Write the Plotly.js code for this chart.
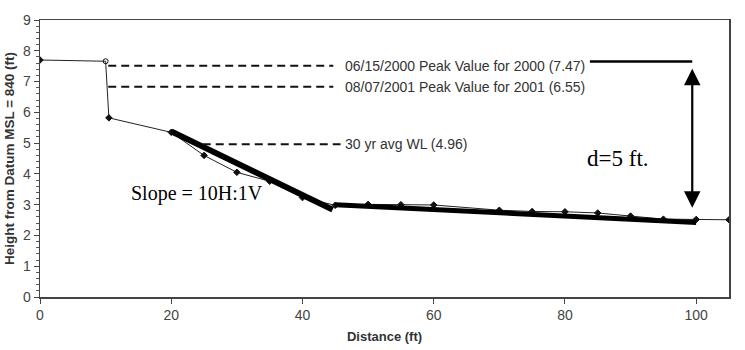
<!DOCTYPE html>
<html>
<head>
<meta charset="utf-8">
<script src="https://cdn.plot.ly/plotly-3.0.1.min.js"></script>
<style>html,body{margin:0;padding:0;background:#fff;}#chart{width:745px;height:350px;}</style>
</head>
<body>
<div id="chart"></div>
<script>
// Surveyed profile
var distance = [0, 10, 10.5, 20, 25, 30, 35, 40, 45, 50, 55, 60, 70, 75, 80, 85, 90, 95, 100, 105];
var height   = [7.70, 7.66, 5.82, 5.35, 4.60, 4.05, 3.76, 3.23, 2.98, 3.01, 3.00, 2.99, 2.82, 2.78, 2.77, 2.73, 2.63, 2.53, 2.52, 2.51];
var markerSymbols = ['diamond', 'circle-open', 'diamond', 'diamond', 'diamond', 'diamond', 'diamond', 'diamond', 'diamond', 'diamond',
                     'diamond', 'diamond', 'diamond', 'diamond', 'diamond', 'diamond', 'diamond', 'diamond', 'diamond', 'diamond'];

// Bold design-slope lines
var slopeX = [20, 44.6];
var slopeY = [5.38, 2.84];
var flatX  = [45, 100];
var flatY  = [3.00, 2.42];

// Reference water levels (dashed)
var peak2000X = [10.4, 44.7];
var peak2000Y = [7.51, 7.51];
var peak2001X = [10.4, 44.7];
var peak2001Y = [6.83, 6.83];
var avgWLX = [24.8, 45.8];
var avgWLY = [4.96, 4.96];

// Solid reference line top-right
var topLineX = [83.8, 99.4];
var topLineY = [7.65, 7.65];

var labels = [
  "06/15/2000 Peak Value for 2000 (7.47)",
  "08/07/2001 Peak Value for 2001 (6.55)",
  "30 yr avg WL (4.96)"
];

var traces = [
  {x: distance, y: height, mode: 'lines+markers', line: {color: '#222', width: 1},
   marker: {symbol: markerSymbols, size: 5, color: '#111', line: {color: '#111', width: 1}}, hoverinfo: 'skip'},
  {x: slopeX, y: slopeY, mode: 'lines', line: {color: '#000', width: 6}},
  {x: flatX, y: flatY, mode: 'lines', line: {color: '#000', width: 5}},
  {x: peak2000X, y: peak2000Y, mode: 'lines', line: {color: '#111', width: 2, dash: '8px,5px'}},
  {x: peak2001X, y: peak2001Y, mode: 'lines', line: {color: '#111', width: 2, dash: '8px,5px'}},
  {x: avgWLX, y: avgWLY, mode: 'lines', line: {color: '#111', width: 2, dash: '8px,5px'}},
  {x: topLineX, y: topLineY, mode: 'lines', line: {color: '#000', width: 2.5}}
];

var layout = {
  width: 745, height: 350,
  margin: {l: 40, r: 16, t: 20, b: 53},
  paper_bgcolor: '#fff', plot_bgcolor: '#fff',
  showlegend: false,
  font: {family: 'Liberation Sans, Arial, sans-serif', color: '#333', size: 13},
  xaxis: {
    range: [0, 105], dtick: 20, tick0: 0, showgrid: false, zeroline: false,
    showline: true, linecolor: '#444', linewidth: 1.5, mirror: true,
    ticks: 'outside', ticklen: 5, tickcolor: '#444',
    tickfont: {size: 14, color: '#444'},
    title: {text: '<b>Distance (ft)</b>', font: {size: 13, color: '#333'}, standoff: 9}
  },
  yaxis: {
    range: [0, 9], dtick: 1, tick0: 0, showgrid: false, zeroline: false,
    showline: true, linecolor: '#444', linewidth: 1.5, mirror: true,
    ticks: 'outside', ticklen: 5, tickcolor: '#444',
    minor: {dtick: 0.2, ticks: 'outside', ticklen: 3, tickcolor: '#555'},
    tickfont: {size: 14, color: '#444'},
    title: {text: '<b>Height from Datum MSL = 840 (ft)</b>', font: {size: 13.5, color: '#333'}, standoff: 5}
  },
  annotations: [
    {x: 46.2, y: peak2000Y[0], xref: 'x', yref: 'y', text: labels[0], showarrow: false, xanchor: 'left', yanchor: 'middle', font: {size: 14, color: '#333'}},
    {x: 46.2, y: peak2001Y[0], xref: 'x', yref: 'y', text: labels[1], showarrow: false, xanchor: 'left', yanchor: 'middle', font: {size: 14, color: '#333'}},
    {x: 46.2, y: avgWLY[0], xref: 'x', yref: 'y', text: labels[2], showarrow: false, xanchor: 'left', yanchor: 'middle', font: {size: 14, color: '#333'}},
    {x: 13.5, y: 3.35, xref: 'x', yref: 'y', text: 'Slope = 10H:1V', showarrow: false, xanchor: 'left', yanchor: 'middle', font: {family: 'Liberation Serif, Times New Roman, serif', size: 20, color: '#000'}},
    {x: 83.1, y: 4.5, xref: 'x', yref: 'y', text: 'd=5 ft.', showarrow: false, xanchor: 'left', yanchor: 'middle', font: {family: 'Liberation Serif, Times New Roman, serif', size: 23, color: '#000'}},
    {x: 99.4, y: 7.42, ax: 99.4, ay: 2.85, xref: 'x', yref: 'y', axref: 'x', ayref: 'y', text: '', showarrow: true, arrowhead: 2, arrowside: 'end+start', arrowsize: 1.5, arrowwidth: 2.2, arrowcolor: '#000'}
  ]
};

Plotly.newPlot('chart', traces, layout, {staticPlot: true, displayModeBar: false});
</script>
</body>
</html>
